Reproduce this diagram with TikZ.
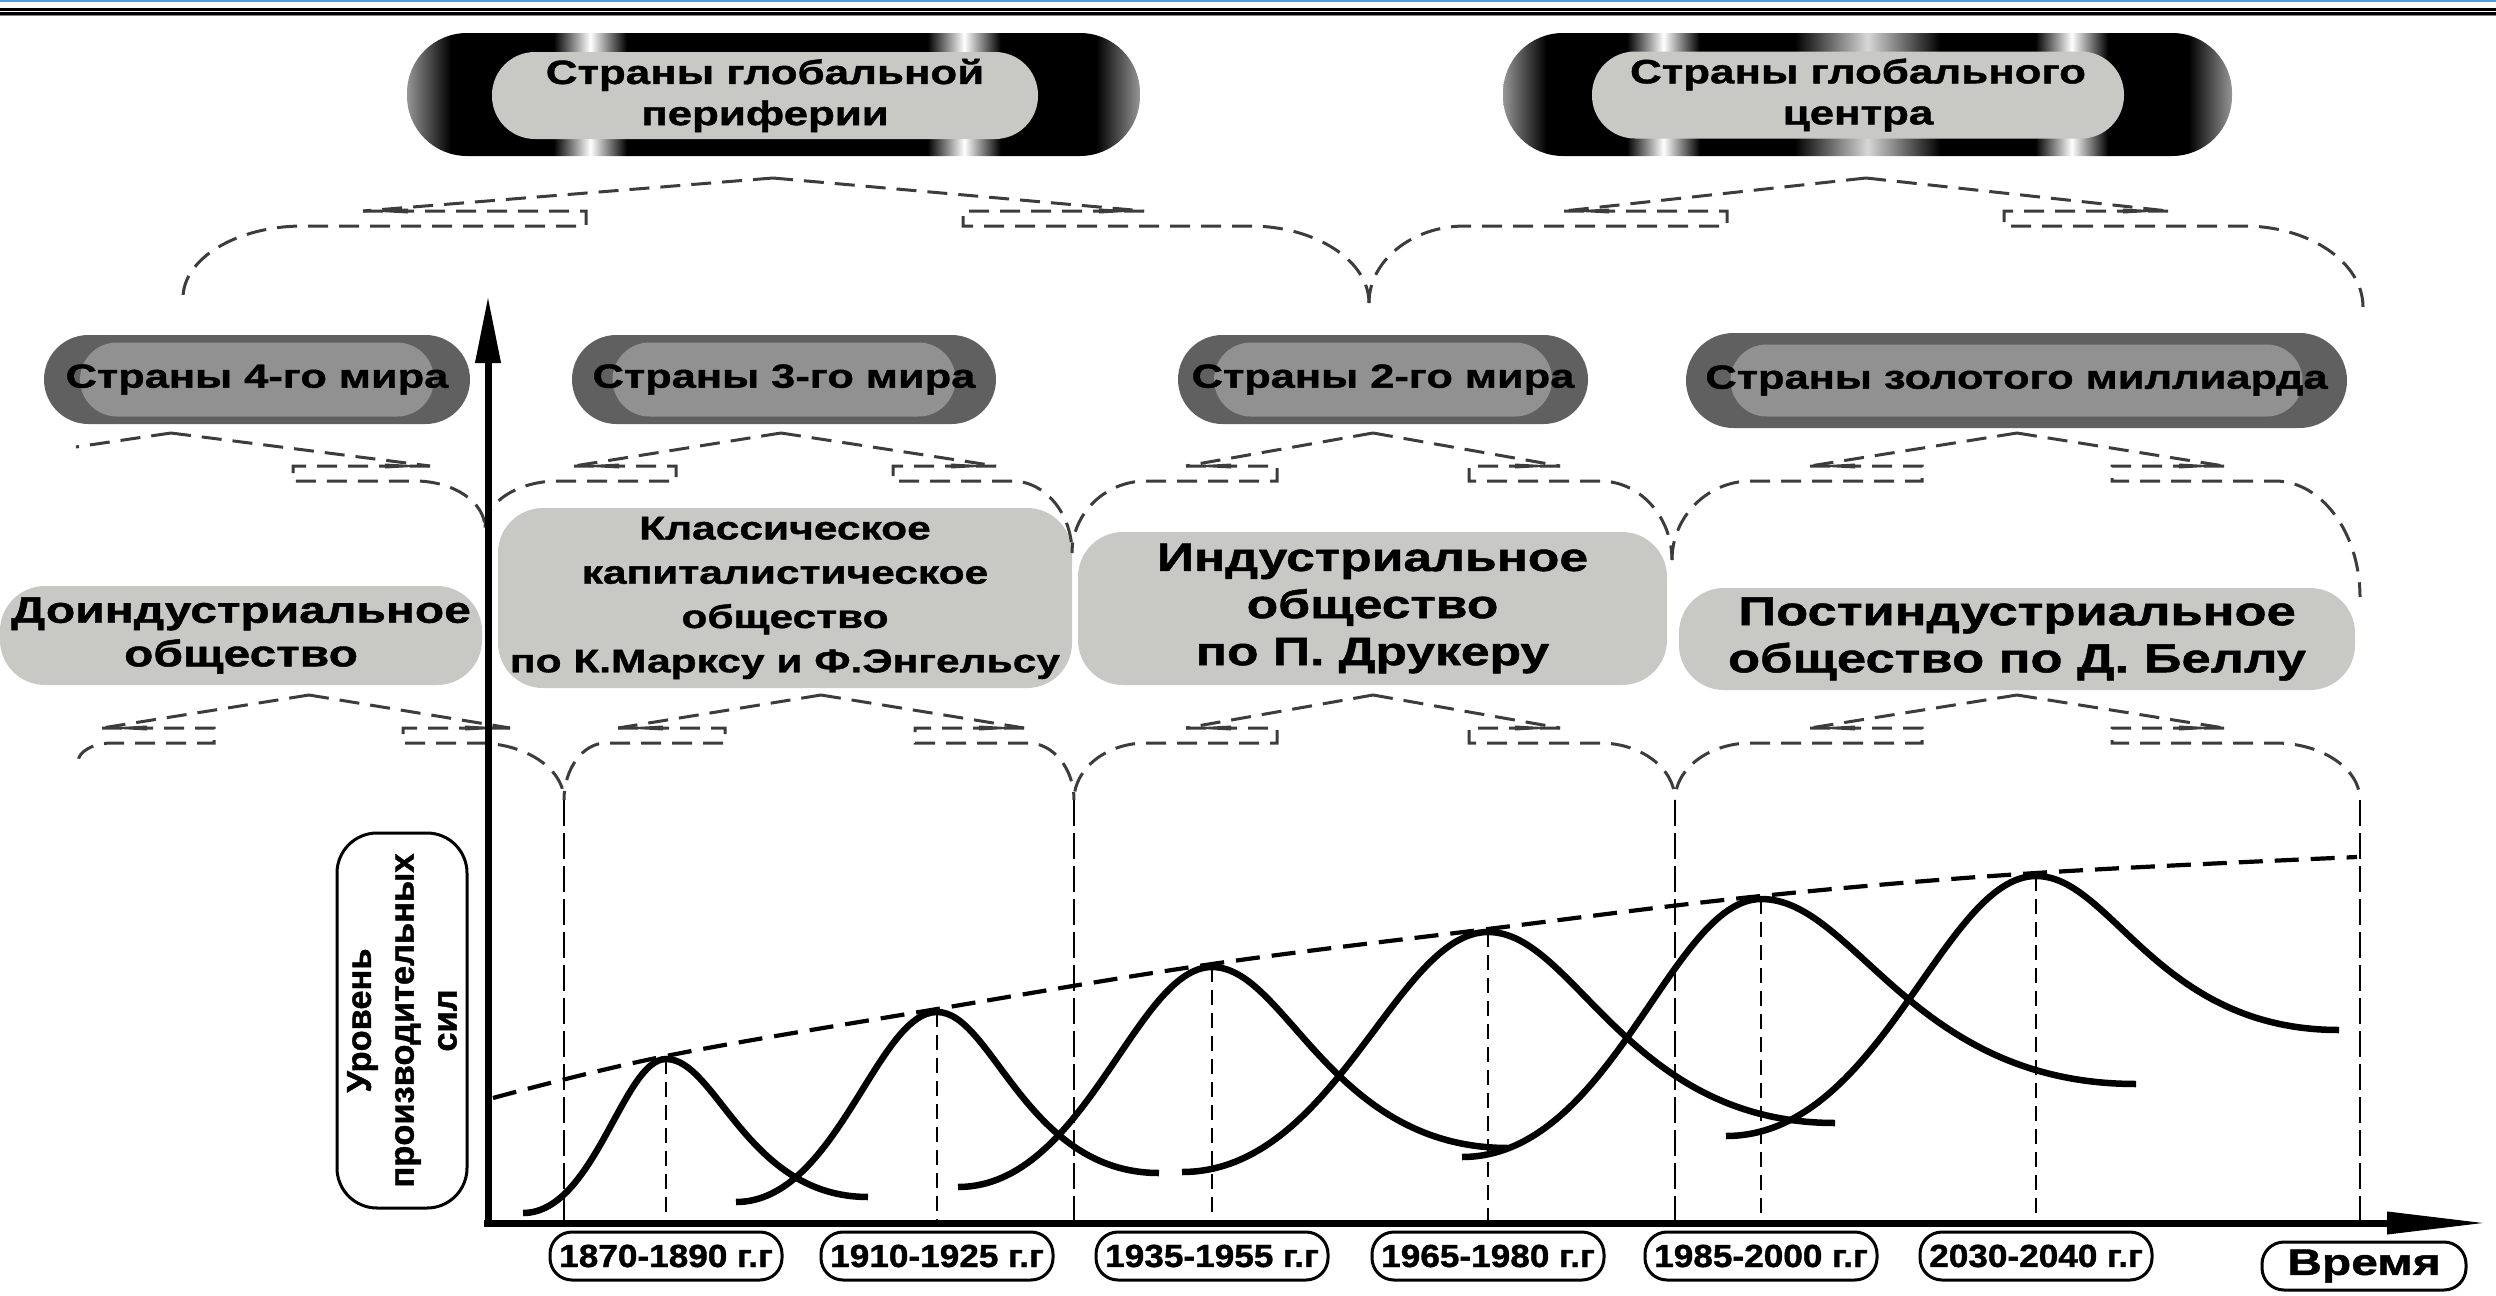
\documentclass[tikz,border=0pt]{standalone}
\usepackage{fontspec}
\setmainfont{Liberation Sans}[FakeStretch=1.3, BoldFeatures={FakeBold=1.2}]
\newfontfamily\plainfont{Liberation Sans}[BoldFeatures={FakeBold=1.2}]
\newfontfamily\yearfont{Liberation Sans}[FakeStretch=1.1, BoldFeatures={FakeBold=1.2}]
\usetikzlibrary{arrows.meta}

\definecolor{boxgray}{RGB}{200,200,196}
\definecolor{ringgray}{RGB}{96,96,96}
\definecolor{coregray}{RGB}{145,145,145}
\definecolor{bracegray}{RGB}{60,60,60}
\definecolor{topblue}{RGB}{91,155,213}
\definecolor{edgegray}{RGB}{150,150,150}
\definecolor{glowgray}{RGB}{215,215,215}

\pgfdeclarehorizontalshading{periphshade}{100bp}{color(0bp)=(edgegray); color(25bp)=(edgegray); color(28bp)=(black); color(35bp)=(black); color(37.5bp)=(white); color(40bp)=(black); color(60.5bp)=(black); color(63bp)=(white); color(65.5bp)=(black); color(72bp)=(black); color(75bp)=(edgegray); color(100bp)=(edgegray)}
\pgfdeclarehorizontalshading{centershade}{100bp}{color(0bp)=(edgegray); color(25bp)=(edgegray); color(28bp)=(black); color(33.5bp)=(black); color(36bp)=(white); color(38.5bp)=(black); color(45bp)=(black); color(50bp)=(glowgray); color(55bp)=(black); color(61.5bp)=(black); color(64bp)=(white); color(66.5bp)=(black); color(72bp)=(black); color(75bp)=(edgegray); color(100bp)=(edgegray)}

% one half of a dashed brace: peak x, peak y, ramp end x, step x, lower start x, end x, end y
\newcommand{\halfbrace}[7]{%
  \draw[bracedash] (#1,#2) -- (#3,{(#2)-0.33});
  \fill[bracegray] (#3,{(#2)-0.33}) -- ({(#3)+0.45*sign((#1)-(#3))},{(#2)-0.305}) -- ({(#3)+0.45*sign((#1)-(#3))},{(#2)-0.355}) -- cycle;
  \draw[bracedash] (#3,{(#2)-0.33}) -- (#4,{(#2)-0.33}) -- (#4,{(#2)-0.48}) -- (#5,{(#2)-0.48})
    .. controls ({(#5)+0.55*((#6)-(#5))},{(#2)-0.48}) and (#6,{(#7)+0.55*((#2)-0.48-(#7))}) .. (#6,#7);
}
% one wave: start x,y, peak x,y, end x,y
\newcommand{\wave}[6]{%
  \draw[wave] (#1,#2) .. controls ({(#1)+0.5*((#3)-(#1))},#2) and ({(#3)-0.3*((#3)-(#1))},#4) .. (#3,#4)
    .. controls ({(#3)+0.25*((#5)-(#3))},#4) and ({(#5)-0.6*((#5)-(#3))},#6) .. (#5,#6);
}

\tikzset{
  bracedash/.style={bracegray, line width=0.03cm, dash pattern=on 0.2cm off 0.11cm},
  wave/.style={line width=0.065cm},
  envelope/.style={line width=0.042cm, dash pattern=on 0.24cm off 0.12cm},
  peakline/.style={line width=0.02cm, dash pattern=on 0.15cm off 0.08cm},
  cuspline/.style={line width=0.025cm, dash pattern=on 0.26cm off 0.07cm},
  axisline/.style={line width=0.07cm},
  globalout/.style={shade, rounded corners=0.6cm, minimum height=1.23cm, inner sep=0pt},
  globalin/.style={fill=boxgray, rounded corners=0.43cm, minimum height=0.87cm, inner sep=0pt, align=center, font=\bfseries\fontsize{9.6}{11.7}\selectfont},
  worldout/.style={fill=ringgray, rounded corners=0.445cm, minimum height=0.89cm, inner sep=0pt},
  worldin/.style={fill=coregray, rounded corners=0.37cm, minimum height=0.74cm, inner sep=0pt, font=\bfseries\fontsize{9.5}{11}\selectfont},
  society/.style={fill=boxgray, rounded corners=0.45cm, inner sep=0pt, align=center},
  yearbox/.style={draw, line width=0.03cm, fill=white, rounded corners=0.22cm, minimum width=2.32cm, minimum height=0.48cm, inner sep=0pt, font=\yearfont\bfseries\fontsize{9.1}{10}\selectfont},
}

\begin{document}
\begin{tikzpicture}
\useasboundingbox (0,0) rectangle (24.96,-12.96);

% frame lines at the top
\draw[topblue, line width=0.015cm] (0,-0.008) -- (24.96,-0.008);
\draw[line width=0.03cm] (0,-0.095) -- (24.96,-0.095);
\draw[line width=0.024cm] (0,-0.137) -- (24.96,-0.137);
\draw[gray, line width=0.01cm] (0,-0.155) -- (24.96,-0.155);

% global level
\node[globalout, shading=periphshade, minimum width=7.33cm] (periph) at (7.735,-0.945) {};
\node[globalin, minimum width=5.46cm] (periphin) at (7.65,-0.955) {Страны глобальной\\периферии};
\node[globalout, shading=centershade, minimum width=7.29cm] (center) at (18.675,-0.945) {};
\node[globalin, minimum width=5.32cm] (centerin) at (18.58,-0.95) {Страны глобального\\центра};

% worlds
\node[worldout, minimum width=4.26cm] (w4) at (2.57,-3.795) {};
\node[worldin, minimum width=3.54cm] (w4in) at (w4) {\makebox[0pt]{Страны 4-го мира}};
\node[worldout, minimum width=4.24cm] (w3) at (7.84,-3.795) {};
\node[worldin, minimum width=3.43cm] (w3in) at (w3) {\makebox[0pt]{Страны 3-го мира}};
\node[worldout, minimum width=4.10cm] (w2) at (13.83,-3.795) {};
\node[worldin, minimum width=3.38cm] (w2in) at (w2) {\makebox[0pt]{Страны 2-го мира}};
\node[worldout, minimum width=6.61cm, minimum height=0.95cm, rounded corners=0.475cm] (gold) at (20.165,-3.805) {};
\node[worldin, minimum width=5.72cm, minimum height=0.72cm, rounded corners=0.36cm] (goldin) at (gold) {\makebox[0pt]{Страны золотого миллиарда}};

% societies
\node[society, minimum width=4.82cm, minimum height=0.99cm, font=\bfseries\fontsize{10.5}{12.4}\selectfont] (preind) at (2.41,-6.355) {Доиндустриальное\\общество};
\node[society, minimum width=5.74cm, minimum height=1.80cm, font=\bfseries\fontsize{9.3}{12.6}\selectfont] (classic) at (7.85,-5.98) {Классическое\\капиталистическое\\общество\\по К.Марксу и Ф.Энгельсу};
\node[society, minimum width=5.89cm, minimum height=1.53cm, font=\bfseries\fontsize{11.3}{13.4}\selectfont] (indust) at (13.725,-6.085) {Индустриальное\\общество\\по П. Друкеру};
\node[society, minimum width=6.76cm, minimum height=1.02cm, font=\bfseries\fontsize{11.5}{13.4}\selectfont] (postind) at (20.17,-6.39) {Постиндустриальное\\общество по Д. Беллу};

% braces under the global level
\halfbrace{7.73}{-1.78}{3.63}{5.86}{3.03}{1.83}{-2.98}
\halfbrace{7.73}{-1.78}{11.44}{9.63}{12.50}{13.69}{-3.03}
\halfbrace{18.66}{-1.78}{15.64}{17.27}{14.65}{13.69}{-3.03}
\halfbrace{18.66}{-1.78}{21.68}{20.04}{22.44}{23.63}{-3.07}

% braces under the worlds
\draw[bracedash] (1.71,-4.33) -- (0.76,-4.47);
\halfbrace{1.71}{-4.33}{4.30}{2.93}{4.15}{4.85}{-5.28}
\halfbrace{7.81}{-4.33}{5.74}{6.76}{5.58}{4.85}{-5.28}
\halfbrace{7.81}{-4.33}{9.96}{8.93}{10.12}{10.72}{-5.53}
\halfbrace{13.73}{-4.33}{11.86}{12.77}{11.46}{10.72}{-5.53}
\halfbrace{13.73}{-4.33}{15.60}{14.69}{16.00}{16.72}{-5.60}
\halfbrace{20.17}{-4.33}{18.10}{19.22}{17.51}{16.72}{-5.60}
\halfbrace{20.17}{-4.33}{22.24}{21.12}{22.75}{23.60}{-5.97}

% braces under the societies
\halfbrace{3.09}{-6.95}{1.02}{2.14}{1.12}{0.78}{-7.62}
\halfbrace{3.09}{-6.95}{5.10}{4.03}{4.78}{5.64}{-8.00}
\halfbrace{8.21}{-6.95}{6.18}{7.25}{6.06}{5.64}{-8.00}
\halfbrace{8.21}{-6.95}{10.24}{9.15}{10.28}{10.74}{-8.00}
\halfbrace{13.73}{-6.95}{11.86}{12.77}{11.46}{10.74}{-8.00}
\halfbrace{13.73}{-6.95}{15.60}{14.69}{16.00}{16.75}{-8.00}
\halfbrace{20.17}{-6.95}{18.10}{19.22}{17.51}{16.75}{-8.00}
\halfbrace{20.17}{-6.95}{22.24}{21.12}{22.75}{23.60}{-8.00}

% chart
\coordinate (o) at (4.88,-12.23);
\foreach \n/\x/\y in {1/6.66/-10.59, 2/9.37/-10.12, 3/12.12/-9.67, 4/14.88/-9.32, 5/17.61/-8.99, 6/20.36/-8.76}
  \coordinate (p\n) at (\x,\y);
\foreach \x in {5.64,10.74,16.75,23.60}
  \draw[cuspline] (\x,-8.00) -- (\x,-12.23);
\foreach \n in {1,...,6}
  \draw[peakline] (p\n) -- (p\n |- o);

\draw[envelope] plot[smooth, tension=0.6] coordinates {(4.93,-10.98) (6.66,-10.56) (9.37,-10.09) (12.12,-9.64) (14.88,-9.29) (17.61,-8.96) (20.36,-8.73) (23.57,-8.57)};

\wave{5.23}{-12.13}{6.66}{-10.59}{8.68}{-11.97}
\wave{7.36}{-12.02}{9.37}{-10.12}{11.59}{-11.73}
\wave{9.58}{-11.87}{12.12}{-9.67}{15.08}{-11.48}
\wave{11.82}{-11.72}{14.88}{-9.32}{18.35}{-11.23}
\wave{14.62}{-11.57}{17.61}{-8.99}{21.36}{-10.84}
\wave{17.26}{-11.36}{20.36}{-8.76}{23.39}{-10.30}

% axes
\draw[axisline, -{Triangle[length=0.67cm, width=0.24cm]}] (4.88,-12.26) -- (4.88,-2.96);
\draw[axisline, -{Triangle[length=1.0cm, width=0.21cm]}] (4.84,-12.23) -- (24.87,-12.23);

% labels
\node[draw, line width=0.03cm, fill=white, rounded corners=0.4cm, rotate=90, minimum width=3.75cm, minimum height=1.30cm, inner sep=0pt, align=center, font=\plainfont\bfseries\fontsize{9.8}{12.2}\selectfont] (ylabel) at (4.02,-10.205) {Уровень\\производительных\\сил};
\foreach \n/\t in {1/1870-1890, 2/1910-1925, 3/1935-1955, 4/1965-1980, 5/1985-2000, 6/2030-2040}
  \node[yearbox] (year\n) at (p\n |- 0,-12.56) {\t{} г.г};
\node[yearbox, minimum width=2.04cm, font=\bfseries\fontsize{10.5}{12}\selectfont] (timelabel) at (23.64,-12.66) {Время};
\end{tikzpicture}
\end{document}
